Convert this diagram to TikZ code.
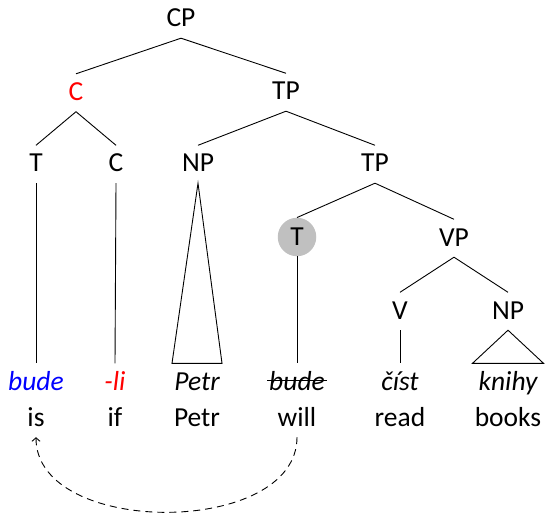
\documentclass[tikz,border=0pt]{standalone}
\usepackage{fontspec}
\setmainfont{Carlito}
\usetikzlibrary{arrows.meta}
\definecolor{tgray}{RGB}{192,192,192}
\newcommand{\mystrike}[1]{\setbox0\hbox{#1}\makebox[0pt][l]{\kern-2bp\raisebox{9bp}{\rule{\dimexpr\wd0+4bp\relax}{1bp}}}\box0}
\begin{document}
\begin{tikzpicture}[x=1bp, y=-1bp,
  font=\fontsize{27.5bp}{33bp}\selectfont,
  cat/.style={inner sep=0, text height=26.5bp, text depth=11bp, anchor=base},
  leafit/.style={cat, font=\fontsize{27.5bp}{33bp}\selectfont\itshape},
  edge/.style={line width=0.9bp, black},
  move/.style={line width=0.9bp, dash pattern=on 7bp off 5bp, -{Straight Barb[length=3.5bp,width=8bp]}}]
\useasboundingbox (0,0) rectangle (546,516);
% categories
\node[cat] (CP) at (181,27) {CP};
\node[cat, text=red] (C1) at (76,100.5) {C};
\node[cat] (TP1) at (286,100) {TP};
\node[cat] (T1) at (36,172) {T};
\node[cat] (C2) at (116,172) {C};
\node[cat] (NP1) at (198,172) {NP};
\node[cat] (TP2) at (375,172) {TP};
\node[circle, fill=tgray, inner sep=0, minimum size=38.5bp] (T2) at (297,237) {T};
\node[cat] (VP) at (454,246) {VP};
\node[cat] (V) at (400,319) {V};
\node[cat] (NP2) at (508,319) {NP};
% words
\node[leafit, text=blue] (w1) at (36,390) {bude};
\node[leafit, text=red] (w2) at (115,390) {-li};
\node[leafit] (w3) at (197,390) {Petr};
\node[leafit] (w4) at (297,390) {\mystrike{bude}};
\node[leafit] (w5) at (400,390) {číst};
\node[leafit] (w6) at (508,390) {knihy};
% glosses
\node[cat] (g1) at (36,426) {is};
\node[cat] (g2) at (115,426) {if};
\node[cat] (g3) at (197,426) {Petr};
\node[cat] (g4) at (297,426) {will};
\node[cat] (g5) at (400,426) {read};
\node[cat] (g6) at (508,426) {books};
% edges
\draw[edge] (CP.south) -- (C1.north);
\draw[edge] (CP.south) -- (TP1.north);
\draw[edge] (C1.south) -- (T1.north);
\draw[edge] (C1.south) -- (C2.north);
\draw[edge] (TP1.south) -- (NP1.north);
\draw[edge] (TP1.south) -- (TP2.north);
\draw[edge] (T1.south) -- (w1.north);
\draw[edge] (C2.south) -- (w2.north);
\draw[edge] (NP1.south) -- ([xshift=-25bp]w3.north) -- ([xshift=25bp]w3.north) -- cycle;
\draw[edge] (TP2.south) -- (T2.north);
\draw[edge] (TP2.south) -- (VP.north);
\draw[edge] (T2.south) -- (w4.north);
\draw[edge] (VP.south) -- (V.north);
\draw[edge] (VP.south) -- (NP2.north);
\draw[edge] (V.south) -- (w5.north);
\draw[edge] (NP2.south) -- ([xshift=-35.5bp]w6.north) -- ([xshift=35.5bp]w6.north) -- cycle;
% movement
\draw[move] (g4.south) .. controls +(0,100) and +(0,100) .. (g1.south);
\end{tikzpicture}
\end{document}
